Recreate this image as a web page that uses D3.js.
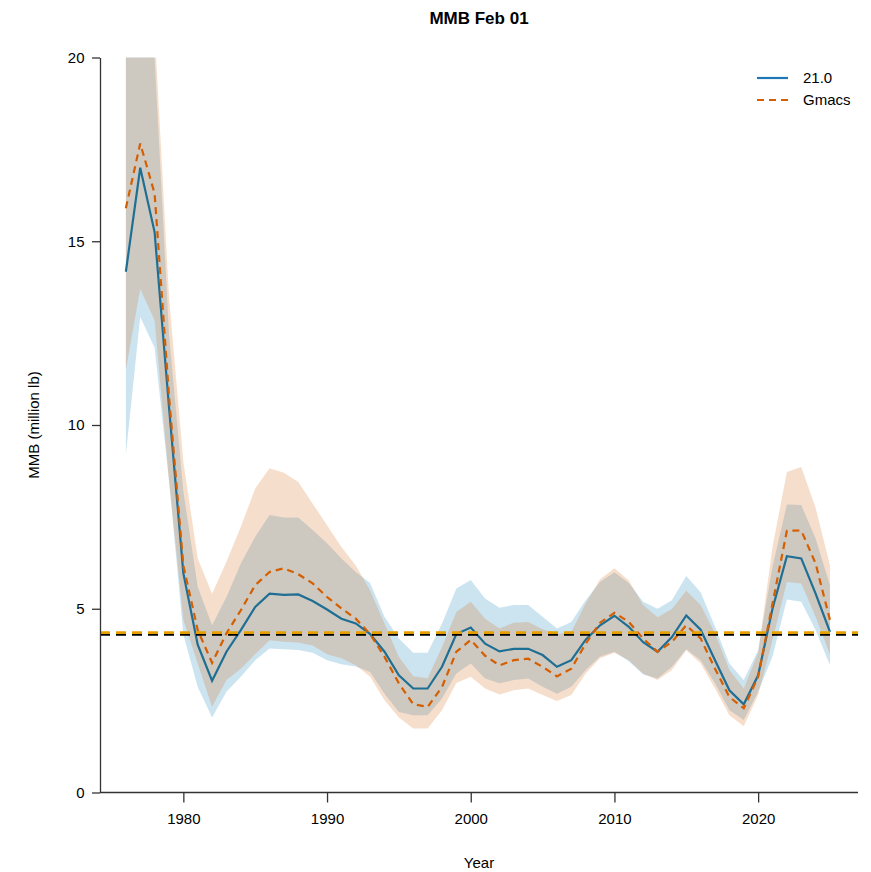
<!DOCTYPE html>
<html><head><meta charset="utf-8">
<script src="https://cdn.jsdelivr.net/npm/d3@7"></script>
<style>body{margin:0;background:#fff;font-family:"Liberation Sans",Arial,sans-serif;}</style>
</head><body><div id="chart"></div>
<script>
// Years 1976-2025
const years = d3.range(1976, 2026);
const m21 = [14.17,17.0,15.25,10.5,5.97,4.02,3.04,3.83,4.42,5.05,5.41,5.38,5.39,5.21,4.98,4.73,4.6,4.31,3.83,3.19,2.83,2.83,3.42,4.31,4.49,
  4.05,3.84,3.91,3.91,3.74,3.42,3.6,4.16,4.55,4.81,4.51,4.09,3.83,4.23,4.82,4.43,3.6,2.78,2.4,3.19,5.0,6.43,6.37,5.41,4.37];
const m21Lo = [9.2,12.94,12.1,8.5,4.3,2.87,2.04,2.74,3.15,3.6,3.92,3.9,3.88,3.8,3.6,3.49,3.43,3.28,2.69,2.19,2.1,2.1,2.56,3.24,3.51,
  3.1,2.97,3.06,3.1,2.88,2.69,2.88,3.33,3.7,3.83,3.57,3.21,3.1,3.42,3.9,3.6,2.97,2.24,1.97,2.74,3.7,5.25,5.19,4.42,3.46];
const m21Hi = [24,25,20,12.5,8.2,5.6,4.55,5.32,6.23,6.96,7.55,7.48,7.48,7.14,6.78,6.37,6.0,5.7,4.78,4.19,3.8,3.8,4.6,5.55,5.78,
  5.28,5.03,5.1,5.1,4.78,4.46,4.64,5.23,5.73,5.99,5.7,5.19,5.0,5.23,5.89,5.45,4.51,3.51,3.06,3.87,6.14,7.84,7.82,6.91,5.64];
const gm = [15.9,17.66,16.3,10.8,6.18,4.42,3.53,4.33,4.96,5.64,6.0,6.1,5.94,5.69,5.32,5.01,4.73,4.31,3.69,2.97,2.4,2.33,2.87,3.83,4.15,
  3.72,3.46,3.6,3.64,3.42,3.16,3.37,4.05,4.62,4.89,4.64,4.19,3.83,4.1,4.55,4.19,3.37,2.6,2.29,3.15,5.14,7.12,7.13,6.23,4.69];
const gmLo = [11.5,13.7,12.85,8.5,4.7,3.51,2.33,3.06,3.37,3.76,4.14,4.1,4.08,4.0,3.76,3.65,3.46,3.15,2.51,2.04,1.74,1.74,2.24,2.98,3.15,
  2.83,2.67,2.78,2.83,2.65,2.49,2.65,3.24,3.65,3.8,3.6,3.24,3.06,3.33,3.87,3.51,2.83,2.1,1.8,2.65,4.15,5.73,5.69,4.78,3.75];
const gmHi = [26,27,20.8,13.5,9.0,6.37,5.41,6.28,7.23,8.27,8.82,8.7,8.45,7.86,7.27,6.68,6.18,5.5,4.6,3.69,3.16,3.11,3.96,4.91,5.19,
  4.73,4.46,4.62,4.64,4.44,4.31,4.37,5.14,5.8,6.1,5.77,5.1,4.77,4.99,5.49,5.1,4.33,3.33,2.83,3.8,6.68,8.72,8.86,7.75,6.18];
const refLines = [{v:4.30,c:"#000000"},{v:4.35,c:"#E69F00"}];
const xTicks = [1980,1990,2000,2010,2020];
const yTicks = [0,5,10,15,20];

const W = 871, H = 872, L = 100, R = 858, T = 57.5, B = 792.5;
const svg = d3.select("#chart").append("svg").attr("width", W).attr("height", H);
const x = d3.scaleLinear().domain([1974.2, 2026.95]).range([L, R]);
const y = d3.scaleLinear().domain([0, 20]).range([B, T]);

svg.append("clipPath").attr("id","clip").append("rect")
  .attr("x", L).attr("y", T).attr("width", R - L).attr("height", B - T);
const g = svg.append("g").attr("clip-path","url(#clip)");

const area = (lo, hi) => d3.area().x((d,i)=>x(years[i])).y0((d,i)=>y(lo[i])).y1((d,i)=>y(hi[i]))(years);
const line = v => d3.line().x((d,i)=>x(years[i])).y((d,i)=>y(v[i]))(years);

g.append("path").attr("d", area(m21Lo, m21Hi)).attr("fill","rgba(85,165,205,0.3)");
g.append("path").attr("d", area(gmLo, gmHi)).attr("fill","rgba(214,104,23,0.22)");
g.append("path").attr("d", line(m21)).attr("fill","none").attr("stroke","#1F6E94").attr("stroke-width",2.2);
g.append("path").attr("d", line(gm)).attr("fill","none").attr("stroke","#D55E00").attr("stroke-width",2.2)
  .attr("stroke-dasharray","7,5");

refLines.forEach(r => {
  g.append("line").attr("x1", L).attr("x2", R).attr("y1", y(r.v)).attr("y2", y(r.v))
    .attr("stroke", r.c).attr("stroke-width", 2.6).attr("stroke-dasharray","10,6");
});

// axes
const ax = svg.append("g").attr("transform", `translate(0,${B})`)
  .call(d3.axisBottom(x).tickValues(xTicks).tickFormat(d3.format("d")).tickSize(10).tickSizeOuter(0));
const ay = svg.append("g").attr("transform", `translate(${L},0)`)
  .call(d3.axisLeft(y).tickValues(yTicks).tickSize(8).tickSizeOuter(0));
[ax, ay].forEach(a => {
  a.select(".domain").attr("stroke","#333").attr("stroke-width",1.3);
  a.selectAll(".tick line").attr("stroke","#333").attr("stroke-width",1.3);
  a.selectAll("text").attr("font-size",15).attr("fill","#000").attr("font-family","Liberation Sans, Arial");
});
ax.select(".domain").attr("d", `M${L},0H${R}`);
ax.selectAll("text").attr("dy","1.2em");
ay.selectAll("text").attr("dx","-0.3em");

svg.append("text").attr("x", 479).attr("y", 24).attr("text-anchor","middle")
  .attr("font-size",17).attr("font-weight","bold").text("MMB Feb 01");
svg.append("text").attr("x", 479).attr("y", 868).attr("text-anchor","middle")
  .attr("font-size",15).text("Year");
svg.append("text").attr("transform",`translate(39,${(T+B)/2}) rotate(-90)`).attr("text-anchor","middle")
  .attr("font-size",15).text("MMB (million lb)");

// legend
const leg = [{n:"21.0", c:"#1F77B4", d:null},{n:"Gmacs", c:"#D55E00", d:"7,5"}];
leg.forEach((l,i) => {
  const yy = 78 + i*22;
  svg.append("line").attr("x1",757).attr("x2",788).attr("y1",yy).attr("y2",yy)
    .attr("stroke",l.c).attr("stroke-width",2.2).attr("stroke-dasharray",l.d);
  svg.append("text").attr("x",803).attr("y",yy+5).attr("font-size",15).text(l.n);
});
</script></body></html>
